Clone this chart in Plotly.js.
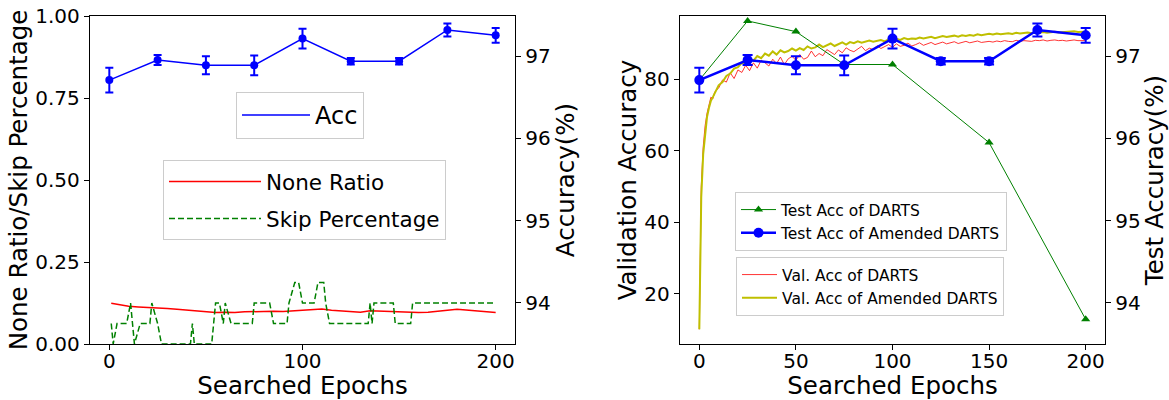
<!DOCTYPE html>
<html>
<head>
<meta charset="utf-8">
<script src="https://cdn.plot.ly/plotly-3.0.1.min.js"></script>
<style>html,body{margin:0;padding:0;background:#fff;}#chart{width:1169px;height:400px;}</style>
</head>
<body>
<div id="chart"></div>
<script>
// ---------- data ----------
const accEpochs = [0, 25, 50, 75, 100, 125, 150, 175, 200];
const accMean = [96.71, 96.955, 96.89, 96.89, 97.215, 96.94, 96.94, 97.32, 97.255];
const accErr = [0.15, 0.06, 0.11, 0.12, 0.12, 0.04, 0.04, 0.08, 0.09];

const noneEpochs = [1,5,10,15,20,25,30,35,40,45,50,55,60,65,70,75,80,85,90,95,100,105,110,115,120,125,130,135,140,145,150,155,160,165,170,175,180,185,190,195,200];
const noneRatio = [0.124,0.119,0.115,0.113,0.112,0.111,0.108,0.106,0.103,0.100,0.097,0.096,0.097,0.096,0.098,0.099,0.098,0.100,0.099,0.101,0.101,0.103,0.107,0.103,0.101,0.099,0.097,0.101,0.100,0.098,0.097,0.097,0.096,0.097,0.099,0.103,0.106,0.104,0.102,0.100,0.096];

const skipEpochs = [1,2,4,9,11,13,16,21,22,25,27,42,43,44,53,55,57,59,60,63,74,75,83,85,92,93,96,98,100,106,108,111,112,114,134,135,136,137,147,148,156,157,200];
const skipPct = [0.0625,0,0.0625,0.0625,0.125,0,0.0625,0.0625,0.125,0.0625,0,0,0.0625,0,0,0.125,0.125,0.0625,0.125,0.0625,0.0625,0.125,0.125,0.0625,0.0625,0.125,0.1875,0.1875,0.125,0.125,0.1875,0.1875,0.125,0.0625,0.0625,0.125,0.0625,0.125,0.125,0.0625,0.0625,0.125,0.125];

const dartsTestEpochs = [0, 25, 50, 75, 100, 150, 200];
const dartsTest = [96.71, 97.43, 97.30, 96.90, 96.90, 95.95, 93.80];

const valEpochs = [0,1,2,3,4,5,6,7,8,
  10,12,14,16,18,20,22,24,26,28,30,
  32,34,36,38,40,42,44,46,48,50,
  52,54,56,58,60,62,64,66,68,70,
  72,74,76,78,80,82,84,86,88,90,
  92,94,96,98,100,102,104,106,108,110,
  112,114,116,118,120,122,124,126,128,130,
  132,134,136,138,140,142,144,146,148,150,
  152,154,156,158,160,162,164,166,168,170,
  172,174,176,178,180,182,184,186,188,190,
  192,194,196,198,200];
const dartsVal = [10,50,61,67,70.5,73,75,74.5,76.5,
  77.5,79.8,79.2,81.8,80.2,82.6,81.9,83.9,82.4,84.6,83.1,
  85.3,84.6,83.7,85.6,84.4,86.2,84.1,85.7,86.4,85.3,
  86.9,85.6,86.1,87.9,86.3,87.2,86.6,88.3,87.5,86.9,
  88.2,87.4,88.8,88.1,87.7,88.5,89.2,88.0,88.7,88.3,
  89.4,88.6,89.1,89.7,88.9,89.9,89.2,89.5,90.1,89.3,
  89.7,90.2,89.5,89.9,90.3,89.7,90.1,90.4,89.9,90.2,
  90.5,90.0,90.3,90.6,90.2,90.4,90.7,90.3,90.5,90.6,
  90.4,90.7,90.5,90.8,90.6,90.5,90.9,90.6,90.8,90.7,
  90.6,90.9,90.8,91.0,90.7,90.9,91.0,90.8,90.9,90.7,
  90.9,91.0,90.8,90.9,90.8];
const amendedVal = [10,47,59,65.5,69.5,72,74,75,76,
  78.3,79.2,80.9,81.6,83.0,83.4,84.6,84.1,85.6,85.2,86.5,
  85.9,87.2,86.6,87.8,86.9,88.1,87.5,87.9,88.6,88.0,
  88.7,88.2,89.2,88.6,88.9,89.7,89.0,89.5,90.0,89.3,
  89.9,90.3,89.7,90.4,90.1,90.6,90.2,90.4,90.8,90.5,
  90.7,91.0,90.6,91.2,90.9,91.3,91.0,91.5,91.2,91.4,
  91.3,91.7,91.4,91.6,91.9,91.5,91.8,92.1,91.8,92.0,
  92.2,91.9,92.3,92.1,92.4,92.2,92.6,92.3,92.5,92.7,
  92.5,92.8,92.6,92.7,92.9,92.7,93.0,92.8,92.9,93.1,
  92.9,93.1,93.0,93.2,93.0,93.1,93.3,93.1,93.2,93.3,
  93.2,93.4,93.2,93.3,93.3];

const leftTicks = [0, 0.25, 0.5, 0.75, 1.0];
const accTicks = [94, 95, 96, 97];
const valTicks = [20, 40, 60, 80];

// ---------- traces ----------
const FONT = 'DejaVu Sans, sans-serif';
const traces = [
  {x: noneEpochs, y: noneRatio, type: 'scatter', mode: 'lines', name: 'None Ratio',
   xaxis: 'x', yaxis: 'y', line: {color: 'red', width: 1.5}, legend: 'legend2', legendgroup: 'a'},
  {x: skipEpochs, y: skipPct, type: 'scatter', mode: 'lines', name: 'Skip Percentage',
   xaxis: 'x', yaxis: 'y', line: {color: 'green', width: 1.5, dash: '6px,3px'}, legend: 'legend2', legendgroup: 'b'},
  {x: accEpochs, y: accMean, type: 'scatter', mode: 'lines', name: 'Acc',
   xaxis: 'x', yaxis: 'y2', line: {color: 'blue', width: 1.5},
   legend: 'legend', showlegend: true},
  {x: accEpochs, y: accMean, type: 'scatter', mode: 'markers', name: 'Acc points',
   xaxis: 'x', yaxis: 'y2', marker: {color: 'blue', size: 8},
   error_y: {type: 'data', array: accErr, visible: true, color: 'blue', thickness: 2, width: 4},
   showlegend: false},
  {x: valEpochs, y: dartsVal, type: 'scatter', mode: 'lines', name: 'Val. Acc of DARTS',
   xaxis: 'x2', yaxis: 'y3', line: {color: 'red', width: 0.8}, legend: 'legend4', legendgroup: 'c'},
  {x: valEpochs, y: amendedVal, type: 'scatter', mode: 'lines', name: 'Val. Acc of Amended DARTS',
   xaxis: 'x2', yaxis: 'y3', line: {color: '#bfbf00', width: 2}, legend: 'legend4', legendgroup: 'd'},
  {x: dartsTestEpochs, y: dartsTest, type: 'scatter', mode: 'lines+markers', name: 'Test Acc of DARTS',
   xaxis: 'x2', yaxis: 'y4', line: {color: 'green', width: 1}, marker: {color: 'green', size: 8, symbol: 'triangle-up'},
   legend: 'legend3', legendgroup: 'e'},
  {x: accEpochs, y: accMean, type: 'scatter', mode: 'lines+markers', name: 'Test Acc of Amended DARTS',
   xaxis: 'x2', yaxis: 'y4', line: {color: 'blue', width: 2.5}, marker: {color: 'blue', size: 10},
   error_y: {type: 'data', array: accErr, visible: true, color: 'blue', thickness: 2, width: 5},
   legend: 'legend3', legendgroup: 'f'}
];

// ---------- layout ----------
const W = 1169, H = 400;
const tickFont = {family: FONT, size: 20, color: '#000'};
const titleFont = {family: FONT, size: 24.5, color: '#000'};
const baseAxis = {showgrid: false, zeroline: false, showline: true, linecolor: '#000', linewidth: 1.2,
  ticks: 'outside', ticklen: 5, tickwidth: 1, tickcolor: '#000', tickfont: tickFont, automargin: false, fixedrange: true};
const legendBase = {bgcolor: 'rgba(255,255,255,0.8)', bordercolor: '#cccccc', borderwidth: 1,
  xanchor: 'left', yanchor: 'top', xref: 'paper', yref: 'paper', traceorder: 'grouped'};
const yDom = [1 - 344 / H, 1 - 16 / H];

const layout = {
  width: W, height: H,
  margin: {l: 0, r: 0, t: 0, b: 0},
  paper_bgcolor: '#fff', plot_bgcolor: '#fff',
  font: {family: FONT, color: '#000'},
  xaxis: Object.assign({}, baseAxis, {domain: [90 / W, 515 / W], range: [-10, 210], anchor: 'y',
    tickvals: [0, 100, 200], mirror: true, ticklabelstandoff: -6,
    title: {text: 'Searched Epochs', font: titleFont, standoff: 4}}),
  yaxis: Object.assign({}, baseAxis, {domain: yDom, range: [0, 1], anchor: 'x',
    tickvals: leftTicks, ticktext: leftTicks.map(v => v.toFixed(2)),
    title: {text: 'None Ratio/Skip Percentage', font: titleFont, standoff: 0}}),
  yaxis2: Object.assign({}, baseAxis, {overlaying: 'y', side: 'right', anchor: 'x', range: [93.5, 97.49],
    tickvals: accTicks, title: {text: 'Accuracy(%)', font: titleFont, standoff: 0}}),
  xaxis2: Object.assign({}, baseAxis, {domain: [680 / W, 1105 / W], range: [-10, 210], anchor: 'y3',
    tickvals: [0, 50, 100, 150, 200], mirror: true, ticklabelstandoff: -6,
    title: {text: 'Searched Epochs', font: titleFont, standoff: 4}}),
  yaxis3: Object.assign({}, baseAxis, {domain: yDom, range: [5.9, 97.7], anchor: 'x2',
    tickvals: valTicks, title: {text: 'Validation Accuracy', font: titleFont, standoff: 0}}),
  yaxis4: Object.assign({}, baseAxis, {overlaying: 'y3', side: 'right', anchor: 'x2', range: [93.5, 97.49],
    tickvals: accTicks, title: {text: 'Test Accuracy(%)', font: titleFont, standoff: 0}}),
  legend: Object.assign({}, legendBase, {x: 236 / W, y: 1 - 92 / H, itemwidth: 68,
    font: {family: FONT, size: 24, color: '#000'}}),
  legend2: Object.assign({}, legendBase, {x: 163 / W, y: 1 - 160 / H, itemwidth: 92, tracegroupgap: 6,
    font: {family: FONT, size: 21.5, color: '#000'}}),
  legend3: Object.assign({}, legendBase, {x: 735 / W, y: 1 - 192 / H, itemwidth: 35, tracegroupgap: 0,
    font: {family: FONT, size: 15.5, color: '#000'}}),
  legend4: Object.assign({}, legendBase, {x: 736 / W, y: 1 - 257 / H, itemwidth: 35, tracegroupgap: 0,
    font: {family: FONT, size: 15.5, color: '#000'}}),
  showlegend: true
};

Plotly.newPlot('chart', traces, layout, {displayModeBar: false, staticPlot: true});
</script>
</body>
</html>
